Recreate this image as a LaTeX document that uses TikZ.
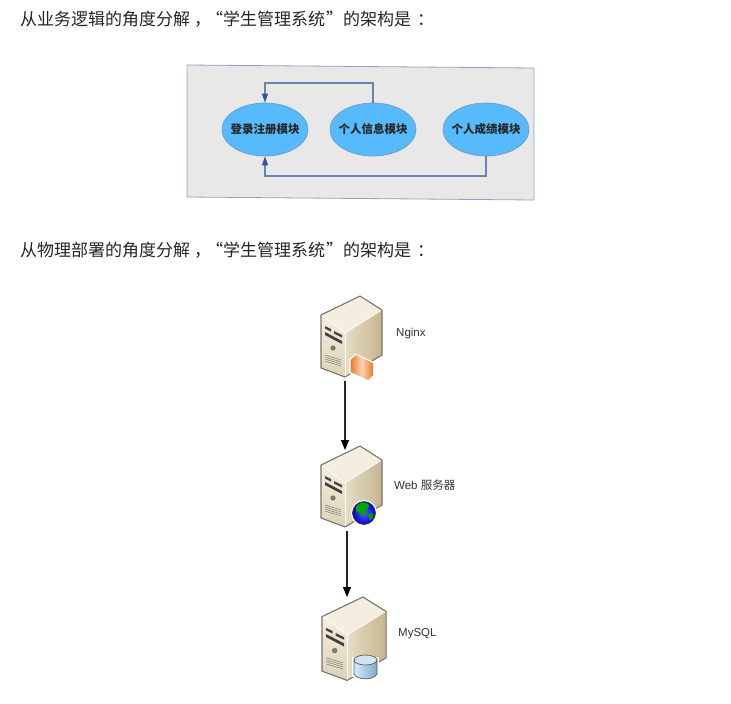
\documentclass[tikz,border=0pt]{standalone}
\usepackage{fontspec}
\setmainfont{Liberation Sans}
\newfontfamily\cjk{Noto Sans CJK SC}
\usetikzlibrary{shapes.geometric,arrows.meta}
\definecolor{panelbg}{HTML}{E8E8E8}
\definecolor{panelln}{HTML}{8FA3C4}
\definecolor{ellfill}{HTML}{56BAFC}
\definecolor{ellln}{HTML}{6E9CC8}
\definecolor{conn}{HTML}{6A84B0}
\definecolor{tip}{HTML}{2F55A0}
\definecolor{srvln}{HTML}{77756C}
\definecolor{srvtop}{HTML}{F3EEDF}
\definecolor{sideL}{HTML}{E6DDC6}
\definecolor{sideR}{HTML}{C6B58F}
\definecolor{frontT}{HTML}{F4EEDC}
\definecolor{frontB}{HTML}{DDD2B6}
\definecolor{nginxO}{HTML}{EC7A2E}
\definecolor{nginxP}{HTML}{F8D4B2}
\definecolor{cylL}{HTML}{D8EAF6}
\definecolor{cylR}{HTML}{7FA9CC}
\definecolor{cylT}{HTML}{CFE4F2}
\newcommand{\srvbody}{%
  \fill[srvtop] (0,19) -- (39,0) -- (61,14) -- (24,37) -- cycle;
  \shade[left color=sideL,right color=sideR] (24,37) -- (61,14) -- (61,59) -- (24,81) -- cycle;
  \shade[top color=frontT,bottom color=frontB] (0,19) -- (24,37) -- (24,81) -- (0,72) -- cycle;
  \draw[srvln,line width=1.1pt,line join=round] (0,19) -- (39,0) -- (61,14) -- (61,59) -- (24,81) -- (0,72) -- cycle;
  \draw[white,line width=.6pt] (1,19.5) -- (24,37) -- (60,14.5);
  \draw[white,line width=.6pt] (24,37) -- (24,80);
  \fill[black!75] (4,30) -- (10,33) -- (10,35.5) -- (4,32.5) -- cycle;
  \fill[black!75] (13,35) -- (21,39) -- (21,41.5) -- (13,37.5) -- cycle;
  \fill[black!75] (4,36) -- (21,45) -- (21,48) -- (4,39) -- cycle;
  \fill[srvln] (12,52) circle (2.6);
  \fill[green!45!black!70] (12,52) circle (1.4);
  \foreach \k in {0,2,4,6} \draw[black!50,line width=.5pt] (4,59+\k) -- (20,64+\k);
}
\tikzset{
  headline/.style={anchor=base west,inner sep=0pt,font=\fontsize{17}{17}\selectfont\cjk,text=black!85},
  modnode/.style={ellipse,draw=ellln,fill=ellfill,line width=.7pt,minimum width=86pt,minimum height=53pt,inner sep=0pt,font=\fontsize{11.5}{12}\selectfont\cjk\bfseries,text=black!85},
  link/.style={draw=conn,line width=1.1pt},
  linkarrow/.style={link,-{Triangle[length=9pt,width=6pt,color=tip]}},
  srvlabel/.style={anchor=west,inner sep=0pt,font=\fontsize{11.5}{12}\selectfont,text=black!80},
  srvslot/.style={minimum width=61pt,minimum height=81pt,inner sep=0pt,anchor=north west},
  flow/.style={draw=black!85,line width=1.1pt,-{Triangle[length=10pt,width=8pt,color=black]}},
}
\newcommand{\headtext}[1]{#1分解\kern 4pt，\kern -5pt“学生管理系统\kern 1pt”的架构是\kern 6pt：}
\begin{document}
\begin{tikzpicture}[x=1pt,y=-1pt]
\useasboundingbox (0,0) rectangle (731,704);
\fill[white] (0,0) rectangle (731,704);
\node[headline] (h1) at (20,25) {\headtext{从业务逻辑的角度}};
\node[headline] (h2) at (20,256) {\headtext{从物理部署的角度}};
\draw[panelln,fill=panelbg,line width=.8pt] (187,65) -- (534,68) -- (534,200) -- (187,197) -- cycle;
\node[modnode] (login) at (265,129.5) {\makebox[0pt][c]{登录注册模块}};
\node[modnode] (info) at (373,129.5) {\makebox[0pt][c]{个人信息模块}};
\node[modnode] (score) at (486,129.5) {\makebox[0pt][c]{个人成绩模块}};
\coordinate (topbend) at (0,83);
\coordinate (botbend) at (0,176);
\draw[linkarrow] (info.north) -- (info.north |- topbend) -- (login.north |- topbend) -- (login.north);
\draw[linkarrow] (score.south) -- (score.south |- botbend) -- (login.south |- botbend) -- (login.south);
% Nginx server
\node[srvslot] (nginx) at (321,296) {};
\begin{scope}[shift={(321,296)}]
  \srvbody
  \fill[white] (28,64) -- (34,57.5) -- (53,66) -- (53,80) -- (47,85.5) -- (28,77) -- cycle;
  \shade[left color=nginxO,right color=nginxO,middle color=nginxP] (29.5,64) -- (35,59) -- (52,67) -- (52,79) -- (47,84) -- (29.5,76) -- cycle;
\end{scope}
\node[srvlabel] (l1) at (396,334) {Nginx};
% Web server
\node[srvslot] (web) at (321,446) {};
\begin{scope}[shift={(321,446)}]
  \srvbody
  \fill[white] (43,67) circle (13);
  \shade[inner color=blue!65!white,outer color=blue!80!black] (43,67) circle (11.5);
  \fill[green!65!black] (35,61) .. controls (39,55) and (45,55) .. (48,59) .. controls (48,65) and (43,63) .. (44,69) .. controls (39,73) and (39,65) .. (35,65) -- cycle;
  \fill[green!60!black] (47,69) .. controls (51,65) and (53,67) .. (52,71) .. controls (51,75) and (47,75) .. (47,69) -- cycle;
  \draw[black!75,line width=.7pt] (43,67) circle (11.5);
\end{scope}
\node[srvlabel] (l2) at (394,485) {Web {\cjk 服务器}};
% MySQL server
\node[srvslot] (mysql) at (322,597) {};
\begin{scope}[shift={(322,597)}]
  \begin{scope}[xscale=1.05,yscale=1.03]
    \srvbody
  \end{scope}
  \fill[white] (30,60) rectangle (57,80);
  \shade[left color=cylL,right color=cylR] (32,63) -- (32,77) .. controls (35,83.5) and (52,83.5) .. (55,77) -- (55,63) -- cycle;
  \fill[cylT] (43.5,63) ellipse (11.5 and 5);
  \draw[black!65,line width=.7pt] (32,63) -- (32,77) .. controls (35,83.5) and (52,83.5) .. (55,77) -- (55,63);
  \draw[black!65,line width=.7pt] (43.5,63) ellipse (11.5 and 5);
\end{scope}
\node[srvlabel] (l3) at (398,634) {MySQL};
\coordinate (a1) at (345,381);
\coordinate (a2) at (345,450);
\coordinate (b1) at (347,531);
\coordinate (b2) at (347,597);
\draw[flow] (a1) -- (a2);
\draw[flow] (b1) -- (b2);
\end{tikzpicture}
\end{document}
